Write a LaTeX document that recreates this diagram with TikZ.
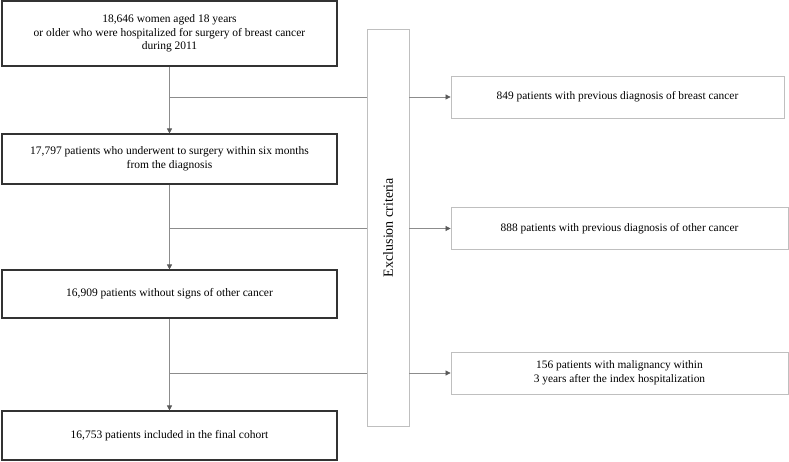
\documentclass[tikz,border=0pt]{standalone}
\usepackage{fontspec}
\setmainfont{Liberation Serif}
\usetikzlibrary{positioning, arrows.meta}

\tikzset{
  mainbox/.style={draw=black!80, line width=1.1pt, align=center,
    minimum width=335pt, inner sep=0pt,
    font=\fontsize{11.5}{13.5}\selectfont},
  exclbox/.style={draw=black!25, line width=0.8pt, align=center,
    minimum width=337pt, minimum height=42pt, inner sep=0pt,
    font=\fontsize{11.4}{13.5}\selectfont},
  flow/.style={draw=black!45, line width=0.7pt},
  flowarrow/.style={flow, -{Triangle[length=5pt,width=5pt,fill=black!65,color=black!65]}}
}

\begin{document}
\begin{tikzpicture}[x=1pt, y=-1pt]

    \useasboundingbox (0,0) rectangle (789,462);

    \node[mainbox, minimum height=65pt] (start) at (169.5,33.5)
      {18,646 women aged 18 years\\or older who were hospitalized for surgery of breast cancer\\during 2011};
    \node[mainbox, minimum height=50pt] (surgery) at (169.5,159)
      {17,797 patients who underwent to surgery within six months\\from the diagnosis};
    \node[mainbox, minimum height=48pt] (nosigns) at (169.5,294)
      {16,909 patients without signs of other cancer};
    \node[mainbox, minimum height=49pt] (cohort) at (169.5,435.5)
      {16,753 patients included in the final cohort};

    \node[draw=black!25, line width=0.8pt, minimum width=42pt, minimum height=397pt,
      inner sep=0pt] (criteria) at (388,227.5) {};
    \node[rotate=90, font=\fontsize{14}{16}\selectfont] (criterialabel) at (criteria.center)
      {Exclusion criteria};

    \node[exclbox, minimum width=333pt] (prevbreast) at (617.5,97)
      {849 patients with previous diagnosis of breast cancer};
    \node[exclbox] (prevother) at (619.5,228.5)
      {888 patients with previous diagnosis of other cancer};
    \node[exclbox] (malignancy) at (619.5,373)
      {156 patients with malignancy within\\3 years after the index hospitalization};

    \draw[flowarrow] (start) -- (surgery);
    \draw[flowarrow] (surgery) -- (nosigns);
    \draw[flowarrow] (nosigns) -- (cohort);

    \draw[flow] (start.south |- prevbreast.west) -- (criteria.west |- prevbreast.west);
    \draw[flow] (surgery.south |- prevother.west) -- (criteria.west |- prevother.west);
    \draw[flow] (nosigns.south |- malignancy.west) -- (criteria.west |- malignancy.west);

    \draw[flowarrow] (criteria.east |- prevbreast.west) -- (prevbreast.west);
    \draw[flowarrow] (criteria.east |- prevother.west) -- (prevother.west);
    \draw[flowarrow] (criteria.east |- malignancy.west) -- (malignancy.west);

\end{tikzpicture}
\end{document}
